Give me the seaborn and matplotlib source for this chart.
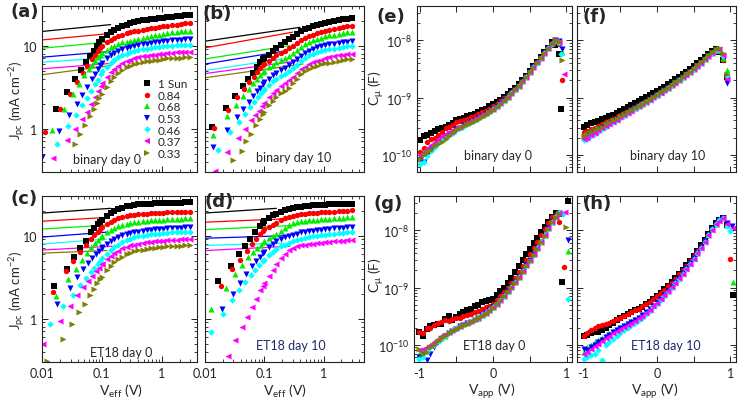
import numpy as np
import pandas as pd
import matplotlib
matplotlib.use("Agg")
import matplotlib.pyplot as plt
import seaborn as sns
from matplotlib.lines import Line2D
from matplotlib.ticker import FixedLocator, FixedFormatter, LogLocator, NullFormatter

# ---------------- series definitions ----------------
SERIES = ["1 Sun", "0.84", "0.68", "0.53", "0.46", "0.37", "0.33"]
COLORS = ["#000000", "#ff0000", "#00ee00", "#0000ff", "#00ffff", "#ff00ff", "#808000"]
MARKERS = ["s", "o", "^", "v", "D", "<", ">"]
SIZES = [13, 15, 19, 19, 11, 19, 19]

# ---------------- J_pc vs V_eff panels ----------------
# shared V_eff grid of the dense (saturated) part
G = [0.10, 0.12, 0.14, 0.16, 0.19, 0.22, 0.26, 0.30, 0.35, 0.41, 0.48,
     0.56, 0.66, 0.77, 0.90, 1.05, 1.25, 1.50, 1.80, 2.10, 2.50, 3.00]

# (a) binary day 0
A_LOW_V = [
    [0.0172, 0.0263, 0.0358, 0.045, 0.0547, 0.064, 0.0726, 0.082, 0.091],
    [0.0112, 0.020, 0.0295, 0.039, 0.0494, 0.0576, 0.068, 0.077, 0.086, 0.095],
    [0.0145, 0.0237, 0.033, 0.042, 0.051, 0.060, 0.069, 0.078, 0.087, 0.095],
    [0.0100, 0.0193, 0.0284, 0.038, 0.0474, 0.0576, 0.068, 0.077, 0.086, 0.095],
    [0.0176, 0.0276, 0.0372, 0.047, 0.057, 0.067, 0.077, 0.087, 0.097],
    [0.0155, 0.026, 0.036, 0.046, 0.056, 0.066, 0.076, 0.086, 0.096],
    [0.0358, 0.0434, 0.0526, 0.0623, 0.0726, 0.082, 0.091],
]
A_LOW_J = [
    [1.74, 2.76, 4.0, 5.1, 6.4, 7.5, 8.7, 9.9, 11.0],
    [0.91, 1.74, 2.63, 3.63, 4.7, 5.75, 6.9, 7.8, 8.6, 9.3],
    [0.97, 1.7, 2.6, 3.4, 4.4, 5.2, 5.9, 6.5, 7.2, 7.7],
    [0.46, 0.93, 1.47, 2.0, 2.56, 3.2, 4.0, 4.6, 5.2, 5.8],
    [0.66, 1.07, 1.47, 1.9, 2.35, 2.85, 3.4, 3.9, 4.5],
    [0.445, 0.72, 1.0, 1.3, 1.6, 2.0, 2.4, 2.8, 3.3],
    [0.65, 0.87, 1.12, 1.42, 1.74, 2.05, 2.35],
]
A_HIGH_J = [
    [12.0, 13.5, 14.6, 15.4, 16.3, 17.0, 17.8, 18.5, 19.1, 19.6, 20.1, 20.5, 20.9, 21.2, 21.5, 21.8, 22.1, 22.4, 22.7, 23.0, 23.3, 23.6],
    [9.9, 11.0, 11.8, 12.4, 13.0, 13.5, 14.0, 14.4, 14.8, 15.1, 15.5, 15.8, 16.1, 16.4, 16.7, 17.0, 17.3, 17.6, 17.9, 18.2, 18.5, 18.7],
    [8.1, 8.9, 9.5, 10.0, 10.5, 10.9, 11.2, 11.5, 11.8, 12.1, 12.4, 12.7, 13.0, 13.3, 13.6, 13.8, 14.1, 14.4, 14.6, 14.8, 15.0, 15.2],
    [6.2, 7.0, 7.6, 8.1, 8.6, 9.0, 9.4, 9.7, 10.0, 10.2, 10.4, 10.6, 10.8, 11.0, 11.1, 11.3, 11.4, 11.6, 11.7, 11.8, 11.9, 12.0],
    [4.9, 5.6, 6.2, 6.7, 7.2, 7.6, 8.0, 8.3, 8.6, 8.8, 9.0, 9.2, 9.4, 9.5, 9.7, 9.8, 9.9, 10.0, 10.1, 10.2, 10.3, 10.3],
    [3.5, 4.2, 4.8, 5.2, 5.7, 6.1, 6.5, 6.8, 7.0, 7.2, 7.4, 7.5, 7.7, 7.8, 7.9, 8.0, 8.1, 8.2, 8.3, 8.3, 8.4, 8.4],
    [2.6, 3.2, 3.75, 4.2, 4.7, 5.1, 5.45, 5.7, 5.95, 6.15, 6.3, 6.45, 6.6, 6.7, 6.8, 6.9, 7.0, 7.05, 7.1, 7.15, 7.2, 7.25],
]
A_FIT = [(0.01, 14.8, 0.14, 17.9), (0.01, 11.7, 0.14, 14.0), (0.01, 9.3, 0.14, 11.1),
         (0.01, 7.25, 0.14, 8.5), (0.01, 6.3, 0.14, 7.2), (0.01, 5.25, 0.14, 6.1),
         (0.01, 4.45, 0.14, 5.75)]

# (b) binary day 10
B_LOW_V = [
    [0.013, 0.0226, 0.032, 0.0432, 0.054, 0.0637, 0.074, 0.085, 0.095],
    [0.0142, 0.0241, 0.034, 0.0455, 0.056, 0.066, 0.076, 0.086, 0.096],
    [0.0138, 0.0238, 0.0333, 0.0443, 0.055, 0.065, 0.075, 0.085, 0.095],
    [0.0135, 0.0232, 0.034, 0.0443, 0.055, 0.065, 0.075, 0.085, 0.095],
    [0.0168, 0.0264, 0.0374, 0.0472, 0.057, 0.067, 0.077, 0.087, 0.097],
    [0.0147, 0.0238, 0.0355, 0.0472, 0.0596, 0.070, 0.080, 0.090],
    [0.030, 0.0416, 0.050, 0.0596, 0.0724, 0.085, 0.096],
]
B_LOW_J = [
    [1.05, 1.77, 2.5, 3.26, 4.0, 4.7, 5.5, 6.3, 6.9],
    [1.02, 1.69, 2.38, 3.0, 3.6, 4.2, 4.8, 5.3, 5.8],
    [0.83, 1.42, 1.94, 2.47, 3.0, 3.5, 4.0, 4.4, 4.8],
    [0.6, 0.95, 1.38, 1.74, 2.1, 2.45, 2.8, 3.1, 3.4],
    [0.55, 0.91, 1.2, 1.51, 1.8, 2.1, 2.4, 2.65, 2.9],
    [0.31, 0.52, 0.76, 1.0, 1.26, 1.45, 1.65, 1.85],
    [0.42, 0.53, 0.70, 0.87, 1.1, 1.3, 1.5],
]
B_HIGH_J = [
    [7.0, 7.8, 8.6, 9.3, 10.2, 11.0, 11.9, 12.8, 13.8, 14.8, 15.7, 16.5, 17.2, 17.8, 18.3, 18.8, 19.3, 19.8, 20.3, 20.7, 21.1, 21.5],
    [6.0, 6.6, 7.1, 7.6, 8.2, 8.7, 9.3, 10.0, 10.8, 11.6, 12.4, 13.0, 13.6, 14.2, 14.7, 15.1, 15.5, 15.9, 16.3, 16.7, 17.0, 17.3],
    [5.0, 5.5, 5.9, 6.3, 6.7, 7.1, 7.5, 8.1, 8.9, 9.7, 10.4, 11.0, 11.6, 12.1, 12.5, 12.9, 13.3, 13.6, 13.9, 14.2, 14.5, 14.7],
    [3.6, 4.0, 4.4, 4.7, 5.1, 5.4, 5.8, 6.3, 6.9, 7.5, 8.1, 8.6, 9.1, 9.5, 9.8, 10.1, 10.4, 10.6, 10.8, 11.0, 11.2, 11.4],
    [3.0, 3.35, 3.7, 4.0, 4.3, 4.6, 4.9, 5.3, 5.9, 6.5, 7.1, 7.6, 8.0, 8.3, 8.6, 8.8, 9.0, 9.2, 9.4, 9.6, 9.8, 9.9],
    [2.05, 2.4, 2.7, 2.95, 3.25, 3.5, 3.8, 4.2, 4.7, 5.2, 5.6, 6.0, 6.3, 6.6, 6.8, 7.0, 7.2, 7.4, 7.6, 7.7, 7.9, 8.0],
    [1.6, 1.9, 2.15, 2.4, 2.65, 2.85, 3.1, 3.5, 4.0, 4.5, 4.9, 5.25, 5.5, 5.75, 5.95, 6.1, 6.25, 6.4, 6.55, 6.7, 6.85, 6.95],
]
B_FIT = [(0.01, 11.3, 0.40, 16.6), (0.01, 9.4, 0.30, 14.5), (0.01, 6.9, 0.27, 10.0),
         (0.01, 6.0, 0.24, 8.7), (0.01, 5.0, 0.20, 6.9), (0.01, 4.6, 0.40, 6.6),
         (0.01, 4.1, 0.45, 6.0)]

# (c) ET18 day 0
C_LOW_V = [
    [0.0159, 0.026, 0.0345, 0.0434, 0.0547, 0.0656, 0.075, 0.085, 0.095],
    [0.0155, 0.0253, 0.0335, 0.0434, 0.0547, 0.065, 0.075, 0.085, 0.095],
    [0.0171, 0.0276, 0.0372, 0.0464, 0.056, 0.066, 0.076, 0.086, 0.096],
    [0.018, 0.0295, 0.039, 0.0494, 0.059, 0.069, 0.079, 0.089, 0.099],
    [0.0136, 0.0228, 0.0327, 0.0434, 0.0547, 0.065, 0.075, 0.085, 0.095],
    [0.0105, 0.020, 0.0295, 0.039, 0.0494, 0.059, 0.069, 0.079, 0.089, 0.099],
    [0.012, 0.0223, 0.0323, 0.042, 0.0526, 0.0637, 0.074, 0.084, 0.094],
]
C_LOW_J = [
    [2.47, 4.0, 5.5, 7.05, 8.7, 11.0, 12.5, 13.7, 14.7],
    [2.09, 3.7, 4.9, 6.3, 7.7, 9.0, 10.2, 11.2, 12.0],
    [1.85, 3.02, 4.0, 5.15, 6.2, 7.2, 8.1, 8.9, 9.6],
    [1.51, 2.33, 3.16, 4.0, 4.7, 5.4, 6.0, 6.6, 7.1],
    [0.87, 1.42, 1.94, 2.51, 3.08, 3.6, 4.1, 4.6, 5.0],
    [0.49, 0.93, 1.42, 1.9, 2.4, 2.85, 3.3, 3.7, 4.1, 4.5],
    [0.31, 0.575, 0.87, 1.2, 1.51, 1.9, 2.3, 2.65, 3.0],
]
C_HIGH_J = [
    [15.5, 17.3, 18.8, 19.9, 21.0, 21.8, 22.5, 23.0, 23.4, 23.7, 23.9, 24.1, 24.3, 24.4, 24.5, 24.6, 24.7, 24.8, 24.9, 25.0, 25.1, 25.2],
    [12.6, 13.8, 14.7, 15.4, 16.1, 16.6, 17.1, 17.5, 17.8, 18.0, 18.2, 18.4, 18.6, 18.7, 18.8, 18.9, 19.0, 19.1, 19.2, 19.3, 19.4, 19.5],
    [10.0, 11.0, 11.8, 12.4, 13.0, 13.5, 13.9, 14.2, 14.5, 14.7, 14.9, 15.1, 15.3, 15.4, 15.5, 15.6, 15.7, 15.8, 15.9, 16.0, 16.1, 16.2],
    [7.2, 8.0, 8.7, 9.2, 9.7, 10.1, 10.5, 10.8, 11.0, 11.2, 11.4, 11.6, 11.8, 11.9, 12.0, 12.1, 12.2, 12.3, 12.4, 12.5, 12.6, 12.7],
    [5.3, 6.0, 6.7, 7.2, 7.8, 8.3, 8.8, 9.2, 9.5, 9.8, 10.0, 10.2, 10.4, 10.5, 10.6, 10.7, 10.8, 10.9, 11.0, 11.0, 11.1, 11.1],
    [4.6, 5.2, 5.7, 6.1, 6.6, 7.0, 7.3, 7.6, 7.8, 8.0, 8.1, 8.3, 8.4, 8.5, 8.6, 8.7, 8.8, 8.9, 8.9, 9.0, 9.0, 9.1],
    [3.2, 3.8, 4.3, 4.75, 5.2, 5.6, 5.95, 6.2, 6.45, 6.65, 6.8, 6.95, 7.05, 7.15, 7.25, 7.3, 7.4, 7.45, 7.5, 7.55, 7.6, 7.65],
]
C_FIT = [(0.01, 18.7, 0.14, 21.3), (0.01, 14.9, 0.13, 16.6), (0.01, 12.0, 0.13, 13.4),
         (0.01, 9.6, 0.12, 11.0), (0.01, 7.9, 0.12, 9.1), (0.01, 6.7, 0.15, 7.45),
         (0.01, 6.15, 0.12, 6.6)]

# (d) ET18 day 10 (no 0.33 Sun data)
D_LOW_V = [
    [0.0168, 0.0271, 0.0374, 0.0472, 0.0574, 0.0697, 0.0846, 0.095],
    [0.0184, 0.0282, 0.0389, 0.0505, 0.0612, 0.072, 0.083, 0.094],
    [0.0125, 0.0226, 0.032, 0.0426, 0.054, 0.065, 0.076, 0.087, 0.097],
    [0.019, 0.0293, 0.0389, 0.0491, 0.0612, 0.072, 0.083, 0.094],
    [0.0125, 0.0198, 0.0282, 0.0379, 0.0472, 0.0589, 0.070, 0.082, 0.094],
    [0.0247, 0.032, 0.0416, 0.0516, 0.0612, 0.0724, 0.0846, 0.095],
]
D_LOW_J = [
    [2.8, 4.3, 6.0, 7.45, 9.1, 11.0, 13.0, 14.3],
    [2.47, 4.0, 5.15, 6.6, 7.9, 9.2, 10.4, 11.5],
    [1.29, 2.33, 3.47, 4.45, 5.5, 6.3, 7.1, 7.8, 8.4],
    [1.29, 1.99, 2.7, 3.47, 4.3, 5.0, 5.6, 6.1],
    [0.69, 1.15, 1.66, 2.19, 2.76, 3.38, 3.9, 4.4, 4.9],
    [0.35, 0.55, 0.79, 1.05, 1.38, 1.74, 2.19, 2.5],
]
D_HIGH_J = [
    [15.0, 16.4, 17.6, 18.3, 19.4, 20.2, 20.9, 21.4, 21.9, 22.3, 22.6, 22.9, 23.1, 23.3, 23.5, 23.6, 23.8, 23.9, 24.0, 24.1, 24.2, 24.3],
    [12.0, 12.8, 13.5, 14.3, 15.3, 16.1, 16.8, 17.3, 17.7, 18.0, 18.3, 18.5, 18.7, 18.9, 19.0, 19.2, 19.4, 19.5, 19.7, 19.8, 20.0, 20.1],
    [8.7, 9.3, 9.9, 10.5, 11.5, 12.5, 13.5, 14.3, 14.7, 14.9, 15.1, 15.3, 15.4, 15.6, 15.7, 15.8, 16.0, 16.1, 16.3, 16.4, 16.6, 16.7],
    [6.4, 7.2, 7.9, 8.5, 9.2, 9.6, 10.0, 10.3, 10.6, 10.9, 11.1, 11.3, 11.5, 11.7, 11.8, 11.9, 12.0, 12.2, 12.3, 12.4, 12.6, 12.7],
    [5.1, 5.8, 6.4, 6.9, 7.4, 7.8, 8.2, 8.5, 8.8, 9.1, 9.4, 9.6, 9.8, 10.0, 10.2, 10.3, 10.5, 10.6, 10.7, 10.8, 11.0, 11.1],
    [2.7, 3.3, 3.9, 4.5, 5.3, 6.0, 6.7, 7.1, 7.4, 7.6, 7.8, 7.9, 8.0, 8.1, 8.2, 8.3, 8.4, 8.5, 8.6, 8.7, 8.8, 8.8],
]
D_FIT = [(0.01, 18.7, 0.16, 21.3), (0.01, 14.5, 0.31, 16.1), (0.01, 11.8, 0.27, 13.2),
         (0.01, 9.3, 0.27, 10.0), (0.01, 7.6, 0.21, 8.1), (0.01, 6.6, 0.27, 7.45)]

# ---------------- C_mu vs V_app panels (values in nF) ----------------
CV = [-1.0, -0.95, -0.9, -0.85, -0.8, -0.75, -0.7, -0.65, -0.6, -0.55,
      -0.5, -0.45, -0.4, -0.35, -0.3, -0.25, -0.2, -0.15, -0.1, -0.05,
      0.0, 0.05, 0.1, 0.15, 0.2, 0.25, 0.3, 0.35, 0.4, 0.45,
      0.5, 0.55, 0.6, 0.65, 0.7, 0.75, 0.8, 0.85, 0.9]

# (e) binary day 0
E_C = [
    [0.18, 0.21, 0.22, 0.24, 0.26, 0.28, 0.30, 0.31, 0.33, 0.36,
     0.40, 0.42, 0.44, 0.47, 0.49, 0.52, 0.56, 0.60, 0.64, 0.70,
     0.76, 0.83, 0.92, 1.03, 1.15, 1.30, 1.50, 1.72, 2.0, 2.4,
     2.9, 3.5, 4.2, 5.1, 6.2, 7.4, 9.5, 8.3, 5.9],
    [0.11, 0.13, 0.17, 0.19, 0.20, 0.22, 0.25, 0.29, 0.31, 0.33,
     0.37, 0.39, 0.41, 0.43, 0.45, 0.48, 0.51, 0.55, 0.59, 0.64,
     0.70, 0.77, 0.86, 0.97, 1.09, 1.25, 1.43, 1.66, 1.95, 2.35,
     2.85, 3.45, 4.15, 5.0, 6.1, 7.4, 8.9, 9.9, 8.5],
    [0.095, 0.11, 0.12, 0.14, 0.16, 0.18, 0.20, 0.22, 0.24, 0.26,
     0.29, 0.31, 0.34, 0.36, 0.39, 0.42, 0.45, 0.49, 0.53, 0.58,
     0.64, 0.71, 0.80, 0.91, 1.04, 1.20, 1.39, 1.62, 1.92, 2.32,
     2.82, 3.42, 4.12, 5.0, 6.1, 7.4, 8.9, 10.2, 9.5],
    [0.08, 0.075, 0.10, 0.12, 0.14, 0.165, 0.19, 0.21, 0.23, 0.25,
     0.28, 0.30, 0.33, 0.35, 0.38, 0.41, 0.44, 0.48, 0.52, 0.57,
     0.63, 0.70, 0.79, 0.90, 1.03, 1.19, 1.38, 1.61, 1.91, 2.3,
     2.8, 3.4, 4.1, 5.0, 6.1, 7.3, 8.8, 10.0, 9.6],
    [0.068, 0.075, 0.095, 0.115, 0.135, 0.16, 0.18, 0.20, 0.22, 0.245,
     0.27, 0.30, 0.32, 0.35, 0.375, 0.40, 0.43, 0.47, 0.51, 0.56,
     0.62, 0.69, 0.78, 0.89, 1.02, 1.18, 1.37, 1.60, 1.90, 2.3,
     2.8, 3.4, 4.1, 5.0, 6.0, 7.3, 8.8, 9.9, 9.2],
    [0.10, 0.11, 0.13, 0.15, 0.17, 0.19, 0.21, 0.23, 0.25, 0.27,
     0.29, 0.31, 0.34, 0.36, 0.39, 0.42, 0.45, 0.49, 0.53, 0.58,
     0.64, 0.71, 0.80, 0.91, 1.04, 1.20, 1.39, 1.62, 1.92, 2.32,
     2.82, 3.42, 4.12, 5.0, 6.1, 7.4, 8.9, 10.1, 9.4],
    [0.085, 0.10, 0.11, 0.12, 0.14, 0.155, 0.17, 0.19, 0.21, 0.24,
     0.27, 0.29, 0.32, 0.34, 0.36, 0.39, 0.42, 0.46, 0.50, 0.55,
     0.61, 0.68, 0.77, 0.88, 1.0, 1.16, 1.35, 1.58, 1.87, 2.26,
     2.75, 3.35, 4.05, 4.9, 5.9, 7.2, 8.7, 10.3, 9.8],
]
E_TAIL_V = [[0.93], [0.94], [0.94], [0.94], [0.93], [0.97], [0.95]]
E_TAIL_C = [[0.64], [2.0], [6.2], [7.0], [5.7], [2.6], [4.6]]

# (f) binary day 10
F_C = [
    [0.31, 0.33, 0.36, 0.37, 0.39, 0.42, 0.44, 0.47, 0.50, 0.54,
     0.58, 0.63, 0.68, 0.74, 0.80, 0.86, 0.93, 1.01, 1.09, 1.18,
     1.28, 1.40, 1.54, 1.70, 1.88, 2.08, 2.30, 2.55, 2.85, 3.2,
     3.6, 4.05, 4.6, 5.2, 5.9, 6.6, 7.2, 6.2, 4.5],
    [0.25, 0.26, 0.28, 0.30, 0.32, 0.34, 0.37, 0.39, 0.42, 0.45,
     0.49, 0.53, 0.58, 0.63, 0.68, 0.74, 0.81, 0.88, 0.96, 1.04,
     1.14, 1.25, 1.38, 1.52, 1.68, 1.86, 2.07, 2.30, 2.57, 2.88,
     3.25, 3.65, 4.15, 4.7, 5.4, 6.1, 6.9, 6.6, 4.6],
    [0.22, 0.24, 0.26, 0.28, 0.30, 0.32, 0.35, 0.37, 0.40, 0.43,
     0.47, 0.51, 0.56, 0.61, 0.66, 0.72, 0.78, 0.85, 0.93, 1.02,
     1.12, 1.23, 1.36, 1.50, 1.66, 1.84, 2.04, 2.27, 2.54, 2.85,
     3.2, 3.6, 4.1, 4.7, 5.35, 6.1, 6.9, 6.8, 5.0],
    [0.20, 0.22, 0.24, 0.26, 0.28, 0.31, 0.33, 0.36, 0.39, 0.42,
     0.46, 0.50, 0.55, 0.60, 0.65, 0.71, 0.77, 0.84, 0.92, 1.01,
     1.11, 1.22, 1.34, 1.48, 1.64, 1.82, 2.02, 2.25, 2.52, 2.83,
     3.18, 3.6, 4.1, 4.65, 5.3, 6.0, 6.8, 6.7, 5.2],
    [0.18, 0.19, 0.21, 0.23, 0.25, 0.28, 0.31, 0.34, 0.37, 0.40,
     0.44, 0.48, 0.53, 0.58, 0.64, 0.70, 0.76, 0.83, 0.91, 1.00,
     1.10, 1.21, 1.33, 1.47, 1.63, 1.81, 2.01, 2.24, 2.51, 2.82,
     3.17, 3.58, 4.08, 4.65, 5.3, 6.05, 6.9, 6.9, 5.4],
    [0.19, 0.20, 0.22, 0.24, 0.27, 0.29, 0.32, 0.35, 0.38, 0.41,
     0.45, 0.49, 0.54, 0.59, 0.65, 0.71, 0.77, 0.84, 0.92, 1.01,
     1.11, 1.22, 1.35, 1.49, 1.65, 1.83, 2.03, 2.26, 2.53, 2.84,
     3.2, 3.6, 4.1, 4.7, 5.35, 6.1, 7.0, 7.0, 5.6],
    [0.21, 0.23, 0.25, 0.27, 0.29, 0.31, 0.34, 0.37, 0.40, 0.43,
     0.47, 0.51, 0.56, 0.61, 0.66, 0.72, 0.78, 0.85, 0.93, 1.02,
     1.12, 1.23, 1.36, 1.50, 1.66, 1.84, 2.04, 2.27, 2.54, 2.85,
     3.2, 3.65, 4.15, 4.75, 5.45, 6.2, 7.1, 7.3, 6.0],
]
F_TAIL_V = [[0.95], [0.95], [0.95], [0.95], [0.95], [0.95], [0.95]]
F_TAIL_C = [[2.3], [2.2], [3.1], [1.8], [2.4], [2.1], [2.6]]

# (g) ET18 day 0
G_C = [
    [0.165, 0.14, 0.19, 0.21, 0.22, 0.23, 0.23, 0.28, 0.32, 0.27,
     0.31, 0.35, 0.38, 0.40, 0.43, 0.47, 0.50, 0.55, 0.59, 0.60,
     0.64, 0.73, 0.86, 1.0, 1.2, 1.5, 1.9, 2.4, 3.0, 3.8,
     4.8, 6.0, 7.4, 9.5, 11.5, 14.0, 17.0, 20.5, 19.0],
    [0.17, 0.16, 0.20, 0.20, 0.22, 0.24, 0.25, 0.27, 0.26, 0.28,
     0.30, 0.30, 0.32, 0.33, 0.35, 0.37, 0.39, 0.42, 0.45, 0.48,
     0.52, 0.60, 0.70, 0.83, 0.98, 1.2, 1.5, 1.9, 2.4, 3.0,
     3.8, 4.9, 6.3, 8.2, 10.5, 13.5, 17.0, 19.5, 14.0],
    [0.07, 0.08, 0.09, 0.10, 0.11, 0.12, 0.13, 0.145, 0.165, 0.18,
     0.20, 0.215, 0.23, 0.245, 0.26, 0.28, 0.30, 0.33, 0.36, 0.40,
     0.45, 0.52, 0.61, 0.72, 0.86, 1.03, 1.25, 1.55, 1.95, 2.45,
     3.0, 3.8, 4.9, 6.4, 8.4, 11.0, 14.0, 17.5, 20.5],
    [0.06, 0.065, 0.055, 0.07, 0.09, 0.11, 0.125, 0.14, 0.16, 0.175,
     0.19, 0.21, 0.225, 0.24, 0.255, 0.275, 0.30, 0.33, 0.36, 0.40,
     0.45, 0.52, 0.61, 0.72, 0.86, 1.03, 1.26, 1.56, 1.96, 2.46,
     3.0, 3.8, 4.9, 6.4, 8.4, 11.0, 14.2, 17.8, 20.5],
    [0.056, 0.06, 0.075, 0.09, 0.10, 0.115, 0.13, 0.145, 0.165, 0.18,
     0.195, 0.21, 0.225, 0.24, 0.26, 0.28, 0.30, 0.33, 0.36, 0.40,
     0.45, 0.52, 0.60, 0.71, 0.85, 1.02, 1.24, 1.54, 1.93, 2.42,
     2.95, 3.75, 4.85, 6.3, 8.3, 10.8, 14.0, 17.8, 21.0],
    [0.08, 0.085, 0.09, 0.10, 0.11, 0.125, 0.14, 0.155, 0.17, 0.185,
     0.20, 0.215, 0.23, 0.245, 0.26, 0.28, 0.30, 0.33, 0.36, 0.40,
     0.45, 0.52, 0.61, 0.72, 0.86, 1.03, 1.25, 1.55, 1.95, 2.45,
     3.0, 3.8, 4.9, 6.4, 8.4, 11.0, 14.0, 17.5, 20.5],
    [0.085, 0.07, 0.075, 0.09, 0.10, 0.115, 0.13, 0.145, 0.16, 0.175,
     0.19, 0.205, 0.22, 0.235, 0.25, 0.27, 0.29, 0.32, 0.35, 0.39,
     0.44, 0.51, 0.60, 0.71, 0.84, 1.0, 1.22, 1.5, 1.9, 2.4,
     2.95, 3.7, 4.8, 6.2, 8.1, 10.6, 13.8, 17.5, 20.0],
]
G_TAIL_V = [[0.93, 1.01], [0.96], [1.01], [1.01], [0.95, 1.02], [0.97], [0.99]]
G_TAIL_C = [[1.24, 33.0], [2.3], [4.3], [6.7], [19.5, 0.63], [21.0], [11.5]]

# (h) ET18 day 10 (no 0.33 Sun data)
H_C = [
    [0.145, 0.15, 0.16, 0.165, 0.17, 0.18, 0.20, 0.22, 0.24, 0.27,
     0.30, 0.32, 0.35, 0.37, 0.40, 0.43, 0.46, 0.51, 0.57, 0.64,
     0.72, 0.82, 0.94, 1.08, 1.25, 1.48, 1.75, 2.05, 2.45, 2.95,
     3.6, 4.4, 5.5, 6.9, 8.8, 11.0, 13.5, 15.5, 16.8],
    [0.14, 0.16, 0.18, 0.20, 0.215, 0.22, 0.23, 0.24, 0.26, 0.28,
     0.30, 0.32, 0.34, 0.37, 0.40, 0.43, 0.47, 0.51, 0.56, 0.63,
     0.71, 0.80, 0.92, 1.06, 1.22, 1.44, 1.70, 2.0, 2.4, 2.9,
     3.5, 4.3, 5.4, 6.8, 8.6, 10.8, 13.2, 15.3, 16.5],
    [0.076, 0.09, 0.10, 0.11, 0.12, 0.13, 0.145, 0.16, 0.175, 0.19,
     0.205, 0.22, 0.24, 0.26, 0.28, 0.31, 0.34, 0.38, 0.43, 0.49,
     0.56, 0.65, 0.76, 0.89, 1.05, 1.25, 1.5, 1.8, 2.2, 2.7,
     3.3, 4.1, 5.2, 6.6, 8.4, 10.6, 13.0, 15.2, 16.4],
    [0.085, 0.08, 0.09, 0.10, 0.11, 0.12, 0.135, 0.15, 0.165, 0.18,
     0.195, 0.21, 0.23, 0.25, 0.27, 0.30, 0.33, 0.37, 0.42, 0.48,
     0.55, 0.64, 0.75, 0.88, 1.04, 1.23, 1.48, 1.78, 2.17, 2.66,
     3.25, 4.0, 5.1, 6.5, 8.3, 10.5, 12.9, 15.0, 16.5],
    [0.056, 0.06, 0.065, 0.07, 0.08, 0.055, 0.10, 0.11, 0.125, 0.14,
     0.16, 0.18, 0.20, 0.22, 0.245, 0.27, 0.30, 0.34, 0.39, 0.45,
     0.52, 0.61, 0.72, 0.85, 1.0, 1.2, 1.44, 1.74, 2.12, 2.6,
     3.2, 3.95, 5.0, 6.4, 8.2, 10.4, 12.8, 15.0, 16.5],
    [0.07, 0.075, 0.085, 0.095, 0.105, 0.115, 0.13, 0.145, 0.16, 0.175,
     0.19, 0.205, 0.225, 0.245, 0.265, 0.29, 0.32, 0.36, 0.41, 0.47,
     0.54, 0.63, 0.74, 0.87, 1.02, 1.21, 1.45, 1.75, 2.13, 2.62,
     3.2, 3.95, 5.0, 6.4, 8.2, 10.3, 12.7, 14.8, 16.3],
]
H_TAIL_V = [[0.95, 1.04], [0.95, 1.0], [0.95, 1.04], [0.95, 1.02], [0.95, 1.0], [0.95, 1.03]]
H_TAIL_C = [[12.2, 0.74], [13.0, 3.2], [12.5, 1.25], [13.5, 12.0], [12.0, 9.6], [13.0, 11.0]]

# ---------------- style ----------------
sns.set_style("ticks")
plt.rcParams.update({
    "font.family": ["Lato", "DejaVu Sans"],
    "mathtext.fontset": "custom",
    "mathtext.rm": "Lato",
    "mathtext.it": "Lato:italic",
    "mathtext.bf": "Lato:bold",
    "axes.linewidth": 0.8,
    "axes.edgecolor": "#222222",
    "xtick.direction": "in", "ytick.direction": "in",
    "xtick.top": True, "ytick.right": True,
    "xtick.major.size": 4, "ytick.major.size": 4,
    "xtick.minor.size": 2, "ytick.minor.size": 2,
    "xtick.major.width": 0.7, "ytick.major.width": 0.7,
    "xtick.minor.width": 0.6, "ytick.minor.width": 0.6,
    "xtick.labelsize": 9, "ytick.labelsize": 9,
    "xtick.color": "#222222", "ytick.color": "#222222",
})

W, H = 740, 402
fig = plt.figure(figsize=(W / 100, H / 100), dpi=100)


def add_ax(l, t, r, b):
    return fig.add_axes([l / W, 1 - b / H, (r - l) / W, (b - t) / H])


def draw_j(ax, low_v, low_j, high_j, fits, xmax, xlab, ylab):
    ax.set_xscale("log")
    ax.set_yscale("log")
    n = len(fits)
    for i in range(n):
        x0, y0, x1, y1 = fits[i]
        sns.lineplot(x=[x0, x1], y=[y0, y1], color=COLORS[i], lw=0.9, ax=ax,
                     zorder=1, legend=False, estimator=None, sort=False)
    for i in range(n):
        df = pd.DataFrame({"V": list(low_v[i]) + G, "J": list(low_j[i]) + list(high_j[i])})
        sns.scatterplot(data=df, x="V", y="J", marker=MARKERS[i], color=COLORS[i],
                        s=SIZES[i], linewidth=0, ax=ax, zorder=2, legend=False)
    ax.set_xlim(0.01, xmax)
    ax.set_ylim(0.3, 30)
    ax.xaxis.set_major_locator(FixedLocator([0.01, 0.1, 1]))
    ax.yaxis.set_major_locator(FixedLocator([1, 10]))
    for axis in (ax.xaxis, ax.yaxis):
        axis.set_minor_locator(LogLocator(base=10, subs=np.arange(2, 10), numticks=30))
        axis.set_minor_formatter(NullFormatter())
    ax.xaxis.set_major_formatter(FixedFormatter(["0.01", "0.1", "1"] if xlab else ["", "", ""]))
    ax.yaxis.set_major_formatter(FixedFormatter(["1", "10"] if ylab else ["", ""]))
    ax.set_xlabel("")
    ax.set_ylabel("")


def draw_c(ax, cvals, tail_v, tail_c, xlim, xlab, ylab):
    ax.set_yscale("log")
    n = len(cvals)
    for i in range(n):
        v = CV + tail_v[i]
        c = np.array(cvals[i] + tail_c[i]) * 1e-9
        df = pd.DataFrame({"V": v, "C": c})
        sns.scatterplot(data=df, x="V", y="C", marker=MARKERS[i], color=COLORS[i],
                        s=SIZES[i], linewidth=0, ax=ax, zorder=2, legend=False)
    ax.set_xlim(*xlim)
    ax.set_ylim(5e-11, 4e-8)
    ax.xaxis.set_major_locator(FixedLocator([-1, -0.5, 0, 0.5, 1]))
    ax.xaxis.set_major_formatter(FixedFormatter(["-1", "", "0", "", "1"] if xlab else [""] * 5))
    ax.yaxis.set_major_locator(FixedLocator([1e-10, 1e-9, 1e-8]))
    ax.yaxis.set_minor_locator(LogLocator(base=10, subs=np.arange(2, 10), numticks=30))
    ax.yaxis.set_minor_formatter(NullFormatter())
    ax.yaxis.set_major_formatter(FixedFormatter(
        [r"10$^{-10}$", r"10$^{-9}$", r"10$^{-8}$"] if ylab else ["", "", ""]))
    ax.set_xlabel("")
    ax.set_ylabel("")


axA = add_ax(42, 7, 197, 173)
axB = add_ax(205, 7, 364, 173)
axC = add_ax(42, 197, 197, 363)
axD = add_ax(205, 197, 364, 363)
axE = add_ax(417, 7, 572, 173)
axF = add_ax(577, 7, 736, 173)
axG = add_ax(414, 197, 572, 363)
axH = add_ax(577, 197, 736, 363)

draw_j(axA, A_LOW_V, A_LOW_J, A_HIGH_J, A_FIT, 3.9, False, True)
draw_j(axB, B_LOW_V, B_LOW_J, B_HIGH_J, B_FIT, 4.8, False, False)
draw_j(axC, C_LOW_V, C_LOW_J, C_HIGH_J, C_FIT, 3.9, True, True)
draw_j(axD, D_LOW_V, D_LOW_J, D_HIGH_J, D_FIT, 4.8, True, False)
draw_c(axE, E_C, E_TAIL_V, E_TAIL_C, (-1.04, 1.08), False, True)
draw_c(axF, F_C, F_TAIL_V, F_TAIL_C, (-1.09, 1.075), False, False)
draw_c(axG, G_C, G_TAIL_V, G_TAIL_C, (-1.07, 1.07), True, True)
draw_c(axH, H_C, H_TAIL_V, H_TAIL_C, (-1.09, 1.075), True, False)

# legend in (a)
handles = [Line2D([], [], marker=MARKERS[i], color=COLORS[i], linestyle="none",
                  markersize=np.sqrt(SIZES[i]), markeredgewidth=0) for i in range(7)]
axA.legend(handles, SERIES, loc="upper left", bbox_to_anchor=(0.65, 0.565),
           frameon=False, fontsize=8.5, handlelength=0.8, handletextpad=0.5,
           labelspacing=0.05, borderpad=0, borderaxespad=0)

# annotations
NAVY = "#1f2a6b"
axA.text(0.42, 0.08, "binary day 0", transform=axA.transAxes, ha="center", va="center", fontsize=9)
axB.text(0.56, 0.09, "binary day 10", transform=axB.transAxes, ha="center", va="center", fontsize=9)
axC.text(0.51, 0.06, "ET18 day 0", transform=axC.transAxes, ha="center", va="center", fontsize=9)
axD.text(0.54, 0.10, "ET18 day 10", transform=axD.transAxes, ha="center", va="center", fontsize=9, color=NAVY)
axE.text(0.52, 0.10, "binary day 0", transform=axE.transAxes, ha="center", va="center", fontsize=9)
axF.text(0.57, 0.10, "binary day 10", transform=axF.transAxes, ha="center", va="center", fontsize=9)
axG.text(0.51, 0.10, "ET18 day 0", transform=axG.transAxes, ha="center", va="center", fontsize=9)
axH.text(0.56, 0.10, "ET18 day 10", transform=axH.transAxes, ha="center", va="center", fontsize=9, color=NAVY)

# panel letters
for lab, x, y in [("(a)", 10, 3), ("(b)", 203, 5), ("(c)", 10, 190), ("(d)", 205, 193),
                  ("(e)", 377, 8), ("(f)", 583, 8), ("(g)", 374, 195), ("(h)", 582, 195)]:
    fig.text(x / W, 1 - y / H, lab, ha="left", va="top", fontsize=13,
             fontweight="bold", family="DejaVu Sans")

# axis titles
for y in (100, 290):
    fig.text(18 / W, 1 - y / H, r"J$_{\mathrm{pc}}$ (mA cm$^{-2}$)", rotation=90,
             ha="center", va="center", fontsize=9.5)
for y in (88, 275):
    fig.text(376 / W, 1 - y / H, r"C$_{\mathrm{\mu}}$ (F)", rotation=90,
             ha="center", va="center", fontsize=10)
for x in (121, 285):
    fig.text(x / W, 1 - 391 / H, r"V$_{\mathrm{eff}}$ (V)", ha="center", va="center", fontsize=10)
for x in (492, 655):
    fig.text(x / W, 1 - 391 / H, r"V$_{\mathrm{app}}$ (V)", ha="center", va="center", fontsize=10)

fig.savefig("out.png", dpi=100)
